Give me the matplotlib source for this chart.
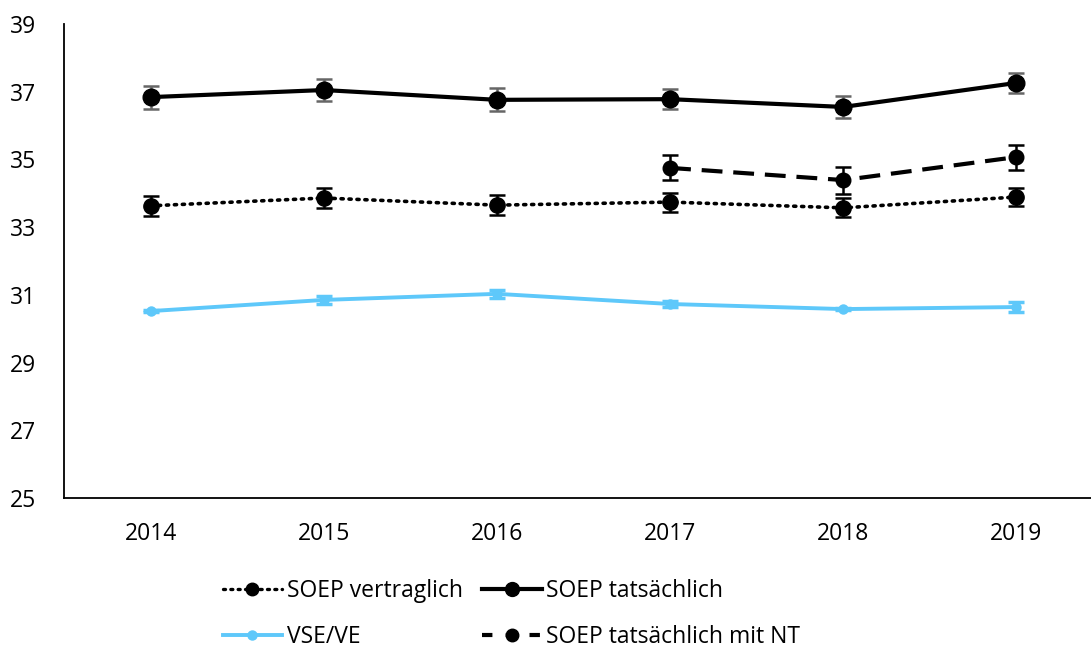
import matplotlib
matplotlib.use('Agg')
import matplotlib.pyplot as plt
from matplotlib.lines import Line2D

plt.rcParams['font.family'] = ['Open Sans', 'DejaVu Sans']

years = [2014, 2015, 2016, 2017, 2018, 2019]

# SOEP vertraglich (contractual hours)
soep_vertr = [33.63, 33.86, 33.65, 33.74, 33.57, 33.89]
soep_vertr_err = [0.30, 0.30, 0.30, 0.28, 0.28, 0.28]

# SOEP tatsächlich (actual hours)
soep_tats = [36.84, 37.05, 36.76, 36.78, 36.55, 37.26]
soep_tats_err = [0.34, 0.33, 0.34, 0.30, 0.32, 0.30]

# SOEP tatsächlich mit NT (only from 2017)
nt_years = [2017, 2018, 2019]
soep_nt = [34.75, 34.39, 35.07]
soep_nt_err = [0.37, 0.40, 0.37]

# VSE/VE
vse = [30.52, 30.85, 31.03, 30.73, 30.58, 30.64]
vse_err = [0.02, 0.12, 0.12, 0.10, 0.02, 0.14]

blue = '#5EC8FA'
fs = 16.5

fig = plt.figure(figsize=(10.91, 6.5), dpi=100)
ax = fig.add_axes([64 / 1091, 152 / 650, 1039 / 1091, 474 / 650])

ax.errorbar(years, soep_vertr, yerr=soep_vertr_err, color='black', lw=2.6,
            linestyle=(0, (0.6, 1.6)), dash_capstyle='round', marker='o', ms=11,
            ecolor='black', elinewidth=1.8, capsize=6, capthick=1.8, zorder=3)
ax.errorbar(years, soep_tats, yerr=soep_tats_err, color='black', lw=3,
            marker='o', ms=12, ecolor='#666666', elinewidth=1.8, capsize=6,
            capthick=1.8, zorder=4)
ax.errorbar(nt_years, soep_nt, yerr=soep_nt_err, color='black', lw=3,
            linestyle=(0, (5, 2.6)), marker='o', ms=10.5, ecolor='black',
            elinewidth=1.8, capsize=6, capthick=1.8, zorder=3)
ax.errorbar(years, vse, yerr=vse_err, color=blue, lw=2.8, marker='o', ms=6.5,
            ecolor=blue, elinewidth=2.5, capsize=6, capthick=2.5, zorder=2)

ax.set_xlim(2013.5, 2019.5)
ax.set_ylim(25, 39)
ax.set_yticks(range(25, 40, 2))
ax.set_xticks(years)
ax.tick_params(axis='both', length=0, labelsize=fs, colors='black')
ax.tick_params(axis='x', pad=17)
ax.tick_params(axis='y', pad=20)
ax.spines['top'].set_visible(False)
ax.spines['right'].set_visible(False)
ax.spines['left'].set_linewidth(1.3)
ax.spines['bottom'].set_linewidth(1.3)

handles = [
    Line2D([], [], color='black', lw=2.4, linestyle=(0, (0.6, 1.6)),
           dash_capstyle='round', marker='o', ms=9),
    Line2D([], [], color=blue, lw=2.8, marker='o', ms=6.5),
    Line2D([], [], color='black', lw=3, marker='o', ms=10),
    Line2D([], [], color='black', lw=3, linestyle=(0, (2.5, 3.2)), marker='o', ms=9),
]
labels = ['SOEP vertraglich', 'VSE/VE', 'SOEP tatsächlich', 'SOEP tatsächlich mit NT']
fig.legend(handles, labels, ncol=2, loc='center left',
           bbox_to_anchor=(202 / 1091, 1 - 614 / 650), frameon=False,
           fontsize=fs, handlelength=2.6, handletextpad=0.2,
           columnspacing=0.85, labelspacing=0.95)

fig.savefig('out.png', dpi=100)
